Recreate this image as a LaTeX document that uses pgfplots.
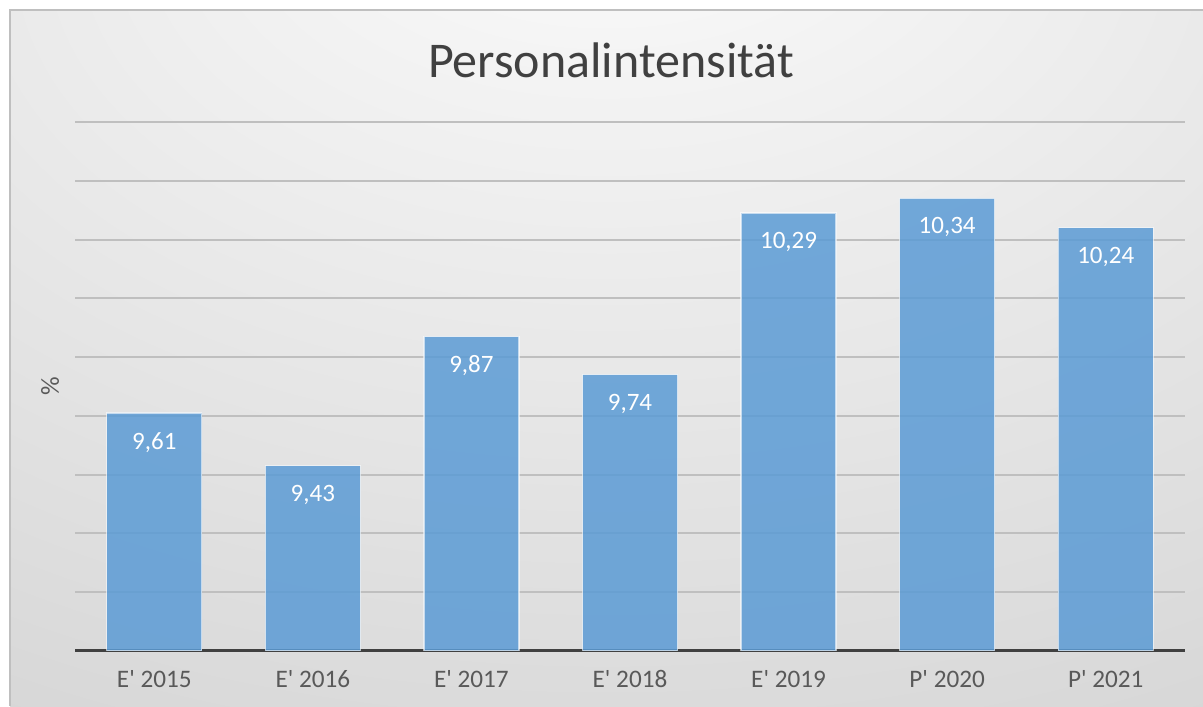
\documentclass[border=0pt]{standalone}
\usepackage{pgfplots}
\pgfplotsset{compat=1.18}
\usepackage{fontspec}
\setmainfont{Carlito}
\definecolor{barblue}{HTML}{5B9BD5}
\definecolor{gridc}{HTML}{BFBFBF}
\definecolor{axisc}{HTML}{404040}
\definecolor{txt}{HTML}{595959}
\definecolor{bgA}{HTML}{F4F4F4}
\definecolor{bgB}{HTML}{D4D4D4}
\definecolor{bgC}{HTML}{C4C4C4}
\pgfdeclareradialshading{bgshade}{\pgfpoint{0bp}{38bp}}{color(0bp)=(white); color(12bp)=(bgA); color(55bp)=(bgB); color(100bp)=(bgC)}
\newcommand{\q}{\textquotesingle}
\begin{document}
\begin{tikzpicture}
\useasboundingbox (0,0) rectangle (601.5pt,353pt);
\fill[white] (0,0) rectangle (601.5pt,353pt);
\shade[shading=bgshade] (5pt,0) rectangle (601.5pt,348pt);
\draw[color=gridc, line width=1pt] (5pt,0) -- (5pt,348pt) -- (601.5pt,348pt);
\node[anchor=base, font=\fontsize{25}{30}\selectfont, text=axisc] at (305.5pt,314pt) {Personalintensität};
\begin{axis}[
  at={(37.5pt,27.5pt)}, anchor=south west,
  scale only axis, width=555pt, height=264.5pt,
  xmin=-0.5, xmax=6.5, ymin=8.8, ymax=10.6,
  ytick={8.8,9.0,9.2,9.4,9.6,9.8,10.0,10.2,10.4,10.6},
  yticklabels={},
  ymajorgrids, grid style={color=gridc, line width=1pt},
  major tick length=0pt,
  xtick={0,1,2,3,4,5,6},
  xticklabels={E\q{} 2015,E\q{} 2016,E\q{} 2017,E\q{} 2018,E\q{} 2019,P\q{} 2020,P\q{} 2021},
  xticklabel style={font=\fontsize{12.6}{15}\selectfont, text=txt, yshift=-6pt},
  axis x line*=bottom, axis y line*=left,
  y axis line style={draw=none},
  x axis line style={line width=1.5pt, color=axisc, -},
  ylabel={\%},
  ylabel style={font=\fontsize{13}{15}\selectfont, text=txt, at={(axis description cs:-0.008,0.5)}, anchor=south},
  ybar, bar width=47.5pt,
  /pgf/number format/.cd, use comma, fixed, fixed zerofill, precision=2, assume math mode=true, /pgfplots/.cd,
  nodes near coords,
  nodes near coords style={anchor=north, yshift=-6pt, text=white, font=\fontsize{12.5}{14}\selectfont},
]
\addplot[fill=barblue, fill opacity=0.85, draw=white, draw opacity=0.6, line width=0.6pt, text opacity=1]
coordinates {(0,9.61) (1,9.43) (2,9.87) (3,9.74) (4,10.29) (5,10.34) (6,10.24)};
\end{axis}
\end{tikzpicture}
\end{document}
